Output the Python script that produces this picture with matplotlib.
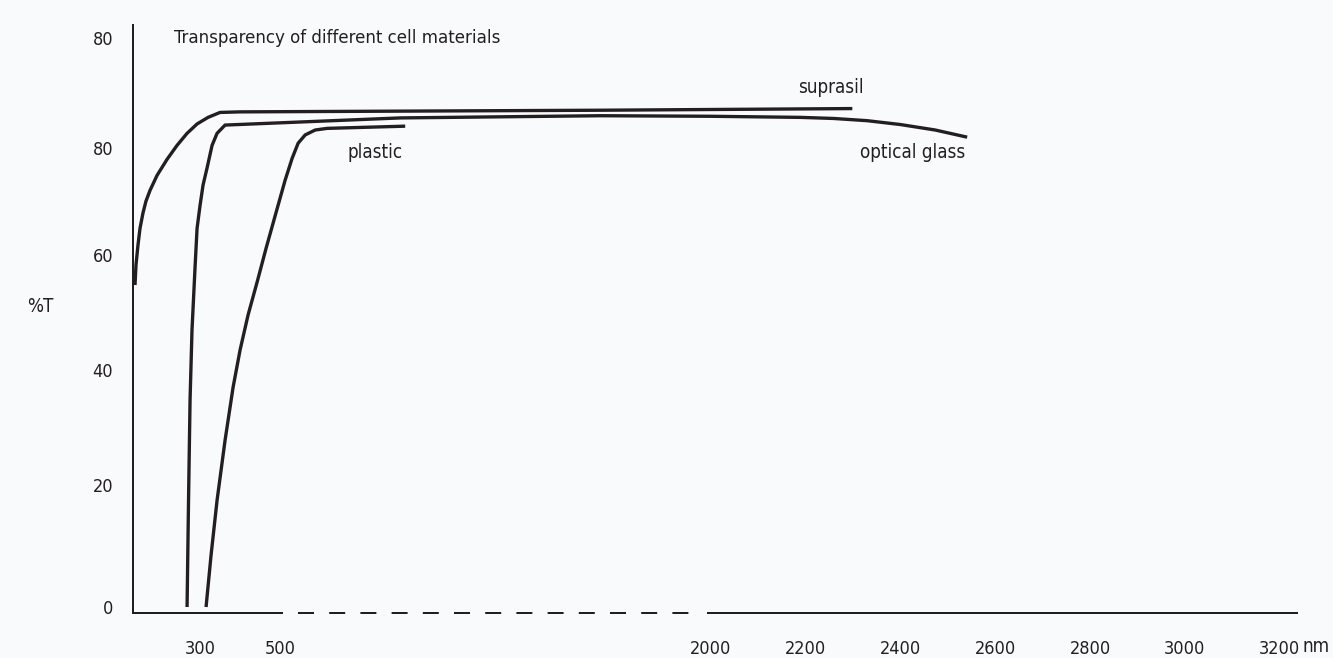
import matplotlib
matplotlib.use('Agg')
import matplotlib.pyplot as plt
import numpy as np

plt.rcParams['font.family'] = ['DejaVu Sans']
plt.rcParams['font.stretch'] = 'condensed'

INK = '#231f20'
BG = '#f9fafb'

# transmission curves (wavelength in nm, %T)
suprasil_nm = [193.3, 194.9, 198.2, 201.5, 206.4, 211.3, 217.9, 229.4, 245.8, 262.2,
               278.7, 295.1, 320, 350, 400, 1616, 2299]
suprasil_t = [54.8, 58.3, 61.9, 65.0, 67.9, 70.1, 72.1, 74.9, 77.9, 80.5,
              82.7, 84.4, 85.6, 86.5, 86.6, 86.9, 87.2]

glass_nm = [278.7, 281.1, 283.6, 286.8, 291.8, 295.1, 300, 307.5, 317.5, 330, 342.5,
            362.5, 918.6, 1616, 2000, 2189.5, 2260, 2330, 2400, 2473.7, 2541]
glass_t = [0, 17.5, 34.8, 47.0, 57.9, 65.0, 69.3, 73.1, 76.3, 80.5, 82.7,
           84.2, 85.5, 85.9, 85.8, 85.6, 85.4, 85.0, 84.3, 83.3, 82.0]

plastic_nm = [315, 327.5, 342.5, 362.5, 382.5, 400, 420, 442.5, 465, 490, 517.4,
              541.9, 562.8, 587.2, 622.1, 663.9, 936]
plastic_t = [0, 8.5, 17.5, 27.8, 37.0, 43.5, 49.6, 55.3, 61.3, 68.0, 74.0,
             78.1, 80.9, 82.4, 83.3, 83.6, 84.0]

x_ticks = [300, 500, 2000, 2200, 2400, 2600, 2800, 3000, 3200]
y_ticks = [0, 20, 40, 60, 80, 100]
y_ticklabels = ['0', '20', '40', '60', '80', '80']

# broken wavelength axis: stretched UV, compressed 500-2000 nm, linear IR
wl_anchor = [190, 300, 500, 2000, 3200, 3300]
wl_pos = [0, 67, 147, 577, 1146, 1193.5]
# hand-spaced %T axis
t_anchor = [-5, 0, 20, 40, 60, 80, 100, 105]
t_pos = [-30.5, 0, 122, 237, 352, 459, 569, 596.5]


def fwd_x(v):
    return np.interp(v, wl_anchor, wl_pos)


def inv_x(p):
    return np.interp(p, wl_pos, wl_anchor)


def fwd_y(v):
    return np.interp(v, t_anchor, t_pos)


def inv_y(p):
    return np.interp(p, t_pos, t_anchor)


fig = plt.figure(figsize=(13.33, 6.58), dpi=100, facecolor=BG)
ax = fig.add_axes([133 / 1333, 45 / 658, (1297 - 133) / 1333, (613 - 25) / 658])
ax.set_facecolor(BG)
ax.set_xscale('function', functions=(fwd_x, inv_x))
ax.set_yscale('function', functions=(fwd_y, inv_y))
ax.set_xlim(190, 3236)
ax.set_ylim(-0.98, 102.4)

for nm, t in [(suprasil_nm, suprasil_t), (glass_nm, glass_t), (plastic_nm, plastic_t)]:
    ax.plot(nm, t, color=INK, lw=2.4, solid_capstyle='butt', solid_joinstyle='round')

# x axis line with a dashed break
xt = ax.get_xaxis_transform()
ax.plot([190, 507], [0, 0], transform=xt, color=INK, lw=1.44, clip_on=False)
ax.plot([563, 1945], [0, 0], transform=xt, color=INK, lw=1.44, dashes=(8, 7.6), clip_on=False)
ax.plot([1993, 3236], [0, 0], transform=xt, color=INK, lw=1.44, clip_on=False)

for s in ['top', 'right', 'bottom']:
    ax.spines[s].set_visible(False)
ax.spines['left'].set_color(INK)
ax.spines['left'].set_linewidth(1.44)

ax.set_xticks(x_ticks)
ax.set_xticklabels([str(v) for v in x_ticks])
ax.set_yticks(y_ticks)
ax.set_yticklabels(y_ticklabels)
ax.minorticks_off()
ax.tick_params(axis='x', length=0, pad=19.5, labelsize=13, colors=INK)
ax.tick_params(axis='y', length=0, pad=14.4, labelsize=13, colors=INK)

ax.text(2253, 91.1, 'suprasil', ha='center', va='center', fontsize=13.5, color=INK)
ax.text(734, 79.1, 'plastic', ha='left', va='center', fontsize=13.5, color=INK)
ax.text(2316, 79.1, 'optical glass', ha='left', va='center', fontsize=13.5, color=INK)

fig.text(174 / 1333, 1 - 38 / 658, 'Transparency of different cell materials',
         ha='left', va='center', fontsize=13.3, color=INK)
fig.text(40 / 1333, 1 - 307 / 658, '%T', ha='center', va='center', fontsize=13.5, color=INK)
fig.text(1303 / 1333, 1 - 647 / 658, 'nm', ha='left', va='center', fontsize=13.5, color=INK)

fig.savefig('out.png', dpi=100, facecolor=BG)
